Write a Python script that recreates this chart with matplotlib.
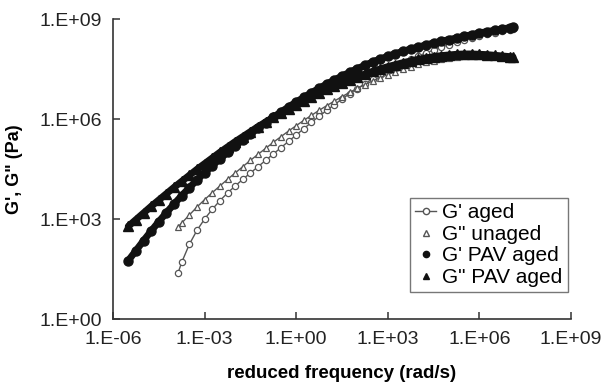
import matplotlib
matplotlib.use("Agg")
import matplotlib.pyplot as plt
from matplotlib.lines import Line2D
from matplotlib.ticker import FixedLocator, FuncFormatter, NullLocator
import numpy as np

plt.rcParams.update({
    "font.family": ["Liberation Sans", "DejaVu Sans"],
    "font.size": 13,
})

# ── Data (log10 values) ──────────────────────────────────────────────────────
# G' aged (open circles) and G" unaged (open triangles)
logw_unaged = [-3.87, -3.75, -3.50, -3.25, -3.00, -2.75, -2.50, -2.25, -2.00,
               -1.75, -1.50, -1.25, -1.00, -0.75, -0.50, -0.25, 0.00, 0.25,
               0.50, 0.75, 1.00, 1.25, 1.50, 1.75, 2.00, 2.25, 2.50, 2.75,
               3.00, 3.25, 3.50, 3.75, 4.00, 4.25, 4.50, 4.75, 5.00, 5.25,
               5.50, 5.75, 6.00, 6.25, 6.50, 6.75, 7.00, 7.10]
logGp_aged = [1.38, 1.70, 2.24, 2.66, 3.00, 3.29, 3.55, 3.78, 3.99,
              4.19, 4.38, 4.57, 4.76, 4.95, 5.14, 5.33, 5.52, 5.71,
              5.90, 6.08, 6.26, 6.43, 6.60, 6.76, 6.91, 7.06, 7.20, 7.33,
              7.46, 7.58, 7.69, 7.79, 7.89, 7.98, 8.07, 8.15, 8.23, 8.30,
              8.37, 8.43, 8.49, 8.54, 8.59, 8.64, 8.68, 8.70]
logGpp_unaged = [2.76, 2.88, 3.12, 3.36, 3.58, 3.79, 3.99, 4.19, 4.38,
                 4.57, 4.76, 4.94, 5.12, 5.30, 5.47, 5.64, 5.80, 5.96,
                 6.11, 6.26, 6.40, 6.54, 6.67, 6.80, 6.92, 7.03, 7.14, 7.24,
                 7.33, 7.42, 7.50, 7.57, 7.64, 7.70, 7.75, 7.80, 7.84, 7.87,
                 7.89, 7.90, 7.90, 7.89, 7.88, 7.87, 7.86, 7.85]

# G' PAV aged (filled circles) and G" PAV aged (filled triangles)
logw_pav = [-5.50, -5.25, -5.00, -4.75, -4.50, -4.25, -4.00, -3.75, -3.50,
            -3.25, -3.00, -2.75, -2.50, -2.25, -2.00, -1.75, -1.50, -1.25,
            -1.00, -0.75, -0.50, -0.25, 0.00, 0.25, 0.50, 0.75, 1.00, 1.25,
            1.50, 1.75, 2.00, 2.25, 2.50, 2.75, 3.00, 3.25, 3.50, 3.75,
            4.00, 4.25, 4.50, 4.75, 5.00, 5.25, 5.50, 5.75, 6.00, 6.25,
            6.50, 6.75, 7.00, 7.10]
logGp_pav = [1.75, 2.05, 2.35, 2.64, 2.92, 3.19, 3.45, 3.70, 3.94,
             4.17, 4.39, 4.60, 4.80, 5.00, 5.19, 5.37, 5.55, 5.72,
             5.89, 6.05, 6.21, 6.36, 6.51, 6.65, 6.79, 6.92, 7.05, 7.17,
             7.29, 7.40, 7.51, 7.61, 7.71, 7.80, 7.88, 7.96, 8.03, 8.10,
             8.16, 8.22, 8.28, 8.33, 8.38, 8.43, 8.48, 8.53, 8.58, 8.62,
             8.66, 8.70, 8.74, 8.76]
logGpp_pav = [2.78, 2.98, 3.18, 3.38, 3.57, 3.76, 3.95, 4.13, 4.31,
              4.49, 4.66, 4.83, 5.00, 5.16, 5.32, 5.47, 5.62, 5.77,
              5.91, 6.05, 6.18, 6.31, 6.43, 6.55, 6.67, 6.78, 6.89, 6.99,
              7.09, 7.18, 7.27, 7.35, 7.43, 7.50, 7.57, 7.63, 7.69, 7.74,
              7.79, 7.83, 7.87, 7.90, 7.92, 7.94, 7.95, 7.95, 7.94, 7.93,
              7.91, 7.89, 7.87, 7.86]

LABELS = ["G' aged", 'G" unaged', "G' PAV aged", 'G" PAV aged']
X_TICK_EXP = [-6, -3, 0, 3, 6, 9]
Y_TICK_EXP = [0, 3, 6, 9]

GREY = "#555555"
BLACK = "#111111"

fig = plt.figure(figsize=(6.05, 3.88), dpi=100)
ax = fig.add_axes([113 / 605, 69 / 388, 458 / 605, 300 / 388])

w_un = 10.0 ** np.array(logw_unaged)
w_pav = 10.0 ** np.array(logw_pav)

ax.plot(w_un, 10.0 ** np.array(logGp_aged), "-", color=GREY, lw=1.0,
        marker="o", ms=4.5, mfc="white", mec=GREY, mew=0.9, zorder=3)
ax.plot(w_un, 10.0 ** np.array(logGpp_unaged), "-", color=GREY, lw=1.0,
        marker="^", ms=4.5, mfc="white", mec=GREY, mew=0.9, zorder=3)
ax.plot(w_pav, 10.0 ** np.array(logGp_pav), "-", color=BLACK, lw=5,
        marker="o", ms=6.5, mfc=BLACK, mec=BLACK, zorder=4,
        solid_capstyle="round")
ax.plot(w_pav, 10.0 ** np.array(logGpp_pav), "-", color=BLACK, lw=5,
        marker="^", ms=6.5, mfc=BLACK, mec=BLACK, zorder=4,
        solid_capstyle="round")

# ── Axes ──────────────────────────────────────────────────────────────────────
ax.set_xscale("log")
ax.set_yscale("log")
ax.set_xlim(1e-6, 1e9)
ax.set_ylim(1e0, 1e9)

ax.xaxis.set_major_locator(FixedLocator([10.0 ** e for e in X_TICK_EXP]))
ax.yaxis.set_major_locator(FixedLocator([10.0 ** e for e in Y_TICK_EXP]))
ax.xaxis.set_minor_locator(NullLocator())
ax.yaxis.set_minor_locator(NullLocator())
fmt = FuncFormatter(lambda v, p: f"1.E{int(round(np.log10(v))):+03d}")
ax.xaxis.set_major_formatter(fmt)
ax.yaxis.set_major_formatter(fmt)

ax.tick_params(direction="in", length=5, width=1.1, colors="#333333",
               labelcolor="#222222", labelsize=14)
ax.tick_params(axis="x", pad=9)
ax.tick_params(axis="y", pad=8)

for side in ("top", "right"):
    ax.spines[side].set_visible(False)
for side in ("left", "bottom"):
    ax.spines[side].set_linewidth(1.2)
    ax.spines[side].set_color("#333333")

ax.set_xlabel("reduced frequency (rad/s)", fontweight="bold", fontsize=13.5,
              labelpad=12)
ax.set_ylabel('G\', G" (Pa)', fontweight="bold", fontsize=13, labelpad=12)

# ── Legend ────────────────────────────────────────────────────────────────────
handles = [
    Line2D([], [], color=GREY, lw=1.0, marker="o", ms=4.5, mfc="white",
           mec=GREY),
    Line2D([], [], ls="none", marker="^", ms=4.5, mfc="white", mec=GREY),
    Line2D([], [], ls="none", marker="o", ms=4.5, mfc=BLACK, mec=BLACK),
    Line2D([], [], ls="none", marker="^", ms=4.5, mfc=BLACK, mec=BLACK),
]
leg = ax.legend(handles, LABELS, loc="lower right",
                bbox_to_anchor=(0.993, 0.09), borderaxespad=0,
                fontsize=15, frameon=True, fancybox=False,
                handlelength=1.0, handletextpad=0.3, labelspacing=0.12,
                borderpad=0.25)
leg.get_frame().set_edgecolor("#555555")
leg.get_frame().set_linewidth(1.0)

fig.savefig("out.png", dpi=100)
plt.close(fig)
